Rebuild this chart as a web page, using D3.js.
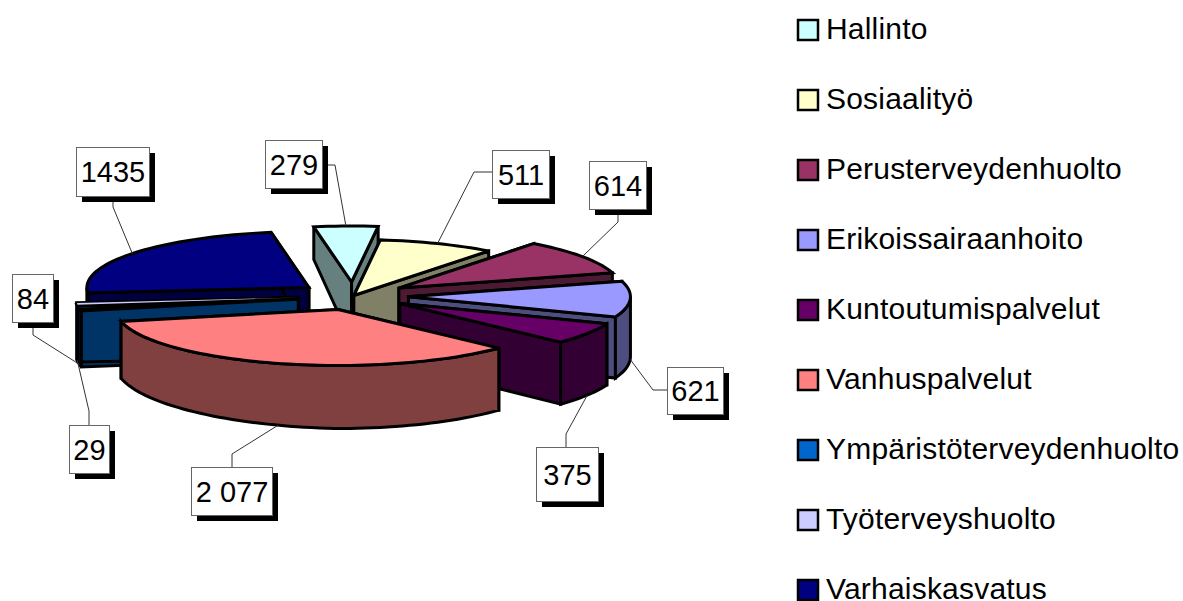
<!DOCTYPE html>
<html><head><meta charset="utf-8">
<script src="https://cdnjs.cloudflare.com/ajax/libs/d3/7.8.5/d3.min.js"></script>
<style>html,body{margin:0;padding:0;background:#fff}svg{display:block}text{font-family:"Liberation Sans",Arial,sans-serif;fill:#000}</style>
</head><body><svg id="c" width="1183" height="601"></svg>
<script>
const categories=["Hallinto","Sosiaalityö","Perusterveydenhuolto","Erikoissairaanhoito","Kuntoutumispalvelut","Vanhuspalvelut","Ympäristöterveydenhuolto","Työterveyshuolto","Varhaiskasvatus"];
const values=[279,511,614,621,375,2077,84,29,1435];
const valueLabels=["279","511","614","621","375","2 077","84","29","1435"];
const topColors=["#CCFFFF","#FFFFCC","#993366","#9999FF","#660066","#FF8080","#0066CC","#CCCCFF","#000080"];
const wallColors=["#668080","#808066","#4D1A33","#4D4D80","#330033","#804040","#003366","#666680","#000040"];
const explosion=[.25,.01,.25,.25,.25,.25,.25,.25,.25];
const paintOrder=[0,8,1,2,7,6,3,4,5];
// label boxes [left, top, right, bottom] and leader box attachment / elbow
const labelBoxes=[[265,140,322,188],[492,150,549,198],[589,161,646,209],[667,367,723,414],[536,447,598,501],[191,467,272,515],[12,274,53,322],[69,425,109,473],[76,147,149,196]];
const leaderEnds=[[[327,165],[335,165]],[[492,172],[474,172]],[[618,215],[618,222]],[[667,390],[653,390]],[[566,447],[566,434]],[[232,467],[232,454]],[[33,328],[33,335]],[[89,425],[89,411]],[[113,202],[113,207]]];

const svg=d3.select("#c");
const rad=d=>d*Math.PI/180;
const cx=353,cy=296,R=222,r=56;
const sx=d3.scaleLinear().domain([-1,1]).range([cx-R,cx+R]);
const sy=d3.scaleLinear().domain([-1,1]).range([cy-r,cy+r]);
const pie=d3.pie().sort(null).startAngle(rad(-9.8)).endAngle(rad(350.2));
const arcs=pie(values);
const line=d3.line();

function depth(t){const c=Math.cos(t),s=Math.sin(t);
  return (c>0?60-27*c:60-3*c)-4*Math.max(0,-s);}
const slices=arcs.map((a,i)=>{
  const m=(a.startAngle+a.endAngle)/2,e=explosion[i];
  const ax=sx(e*Math.sin(m)),ay=sy(-e*Math.cos(m));
  const rim=t=>[ax+R*Math.sin(t),ay-r*Math.cos(t)];
  return {a,i,m,ax,ay,rim};
});
const samples=(t0,t1)=>{const n=Math.max(2,Math.ceil((t1-t0)/rad(2)));return d3.range(n+1).map(k=>t0+(t1-t0)*k/n);};
const slivers=[];

paintOrder.forEach(i=>{
  const s=slices[i],t0=s.a.startAngle,t1=s.a.endAngle,g=svg.append("g");
  const span=t1-t0;
  const style=(p,f,w)=>p.attr("fill",f).attr("stroke","#000").attr("stroke-width",w||3).attr("stroke-linejoin","miter").attr("stroke-miterlimit",3);
  const apexB=[s.ax,s.ay+60];
  [t0,t1].forEach(t=>{
    const p=s.rim(t),w=[p,[s.ax,s.ay],apexB,[p[0],p[1]+depth(t)]];
    style(g.append("path").attr("d",line(w)+"Z"),wallColors[i]);
  });
  const f0=Math.max(t0,rad(90)),f1=Math.min(t1,rad(270));
  if(f1>f0){
    const ts=samples(f0,f1);
    const up=ts.map(s.rim),lo=ts.slice().reverse().map(t=>{const p=s.rim(t);return [p[0],p[1]+depth(t)];});
    style(g.append("path").attr("d",line(up.concat(lo))+"Z"),wallColors[i]);
  }
  const top=[[s.ax,s.ay]].concat(samples(t0,t1).map(s.rim));
  if(span<rad(3)) { slivers.push({top,i}); style(g.append("path").attr("d",line(top)+"Z"),"#000"); }
  else style(g.append("path").attr("d",line(top)+"Z"),topColors[i],span<rad(6)?4.5:3);
});
slivers.forEach(o=>svg.append("path").attr("d",line(o.top)+"Z").attr("fill",topColors[o.i]).attr("stroke","none"));

// leaders
slices.forEach(s=>{
  const p=s.rim(s.m);
  if(Math.cos(s.m)<0) p[1]+=depth(s.m);
  const [a,b]=leaderEnds[s.i];
  svg.append("path").attr("d",line([a,b,p])).attr("fill","none").attr("stroke","#333").attr("stroke-width",1);
});
// labels
labelBoxes.forEach((b,i)=>{
  const [x0,y0,x1,y1]=b;
  svg.append("rect").attr("x",x0+6).attr("y",y0+6).attr("width",x1-x0).attr("height",y1-y0).attr("fill","#000");
  svg.append("rect").attr("x",x0+.5).attr("y",y0+.5).attr("width",x1-x0).attr("height",y1-y0).attr("fill","#fff").attr("stroke","#666").attr("stroke-width",1);
  svg.append("text").attr("x",(x0+x1)/2+.5).attr("y",(y0+y1)/2+10.5).attr("text-anchor","middle").attr("font-size",29).text(valueLabels[i]);
});
// legend
const legendY=d3.scalePoint().domain(categories).range([30,590]);
categories.forEach((c,i)=>{
  const y=legendY(c);
  svg.append("rect").attr("x",798).attr("y",y-10).attr("width",20).attr("height",20).attr("fill",topColors[i]).attr("stroke","#000").attr("stroke-width",2.5);
  svg.append("text").attr("x",826).attr("y",y+9).attr("font-size",30).attr("letter-spacing",.2).text(c);
});
</script></body></html>
